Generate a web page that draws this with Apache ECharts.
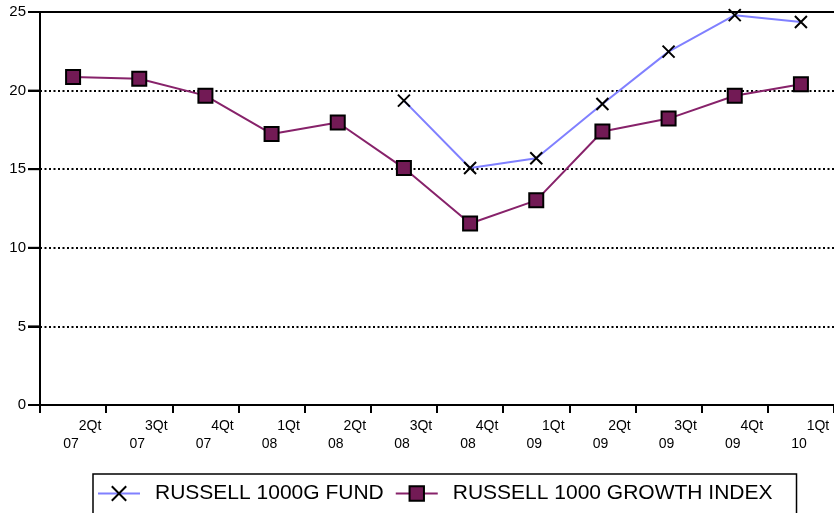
<!DOCTYPE html>
<html>
<head>
<meta charset="utf-8">
<script src="https://cdn.jsdelivr.net/npm/echarts@6/dist/echarts.min.js"></script>
<style>
  html, body { margin: 0; padding: 0; background: #fff; }
  #chart { width: 834px; height: 513px; }
</style>
</head>
<body>
<div id="chart"></div>
<script>
// quarter labels (two lines: quarter / year)
const quarters = ["2Qt", "3Qt", "4Qt", "1Qt", "2Qt", "3Qt", "4Qt", "1Qt", "2Qt", "3Qt", "4Qt", "1Qt"];
const years = ["07", "07", "07", "08", "08", "08", "08", "09", "09", "09", "09", "10"];
const categories = quarters.map((q, i) => q + "\n" + years[i]);

// series values
const fundValues = [null, null, null, null, null, 19.36, 15.08, 15.7, 19.15, 22.48, 24.8, 24.36];
const indexValues = [20.86, 20.75, 19.68, 17.24, 17.97, 15.07, 11.55, 13.02, 17.4, 18.22, 19.67, 20.4];

// y axis ticks
const yMin = 0;
const yMax = 25;
const yStep = 5;

const fontName = "'Liberation Sans', Arial, sans-serif";

const chart = echarts.init(document.getElementById("chart"), null, { renderer: "canvas" });

chart.setOption({
  backgroundColor: "#ffffff",
  animation: false,
  textStyle: { fontFamily: fontName, color: "#000" },
  grid: { left: 40, right: 0, top: 12, bottom: 108 },
  legend: {
    left: 93,
    top: 474,
    orient: "horizontal",
    padding: [9, 24, 14, 4],
    itemGap: 11,
    itemWidth: 42,
    itemHeight: 18,
    borderColor: "#000",
    borderWidth: 1.5,
    textStyle: { fontSize: 21, color: "#000", fontFamily: fontName, padding: [0, 0, 0, 10] },
    data: ["RUSSELL 1000G FUND", "RUSSELL 1000 GROWTH INDEX"]
  },
  xAxis: [
    {
      type: "category",
      data: categories,
      boundaryGap: true,
      axisLine: { show: true, onZero: false, lineStyle: { color: "#000", width: 2 } },
      axisTick: { show: true, interval: 0, length: 8, lineStyle: { color: "#000", width: 2 } },
      axisLabel: {
        interval: 0,
        margin: 12,
        formatter: function (v) {
          const parts = v.split("\n");
          return "{a|" + parts[0] + "}\n{b|" + parts[1] + "}";
        },
        rich: {
          a: { fontSize: 14, fontFamily: fontName, color: "#000", lineHeight: 18, padding: [0, 0, 0, 34] },
          b: { fontSize: 14, fontFamily: fontName, color: "#000", lineHeight: 18, padding: [0, 4, 0, 0] }
        }
      },
      splitLine: { show: false }
    },
    {
      type: "category",
      data: categories,
      position: "top",
      z: 10,
      axisLine: { show: true, onZero: false, lineStyle: { color: "#000", width: 2 } },
      axisTick: { show: false },
      axisLabel: { show: false },
      splitLine: { show: false }
    }
  ],
  yAxis: {
    type: "value",
    min: yMin,
    max: yMax,
    interval: yStep,
    axisLine: { show: true, onZero: false, lineStyle: { color: "#000", width: 2 } },
    axisTick: { show: true, length: 12, lineStyle: { color: "#000", width: 2 } },
    axisLabel: {
      margin: 0,
      formatter: function (v) { return "{v|" + v + "}{t|}"; },
      rich: {
        v: { fontSize: 15, color: "#000", fontFamily: fontName, padding: [0, 2, 0, 0] },
        t: { width: 12, height: 2, backgroundColor: "#000" }
      }
    },
    splitLine: { show: true, lineStyle: { color: "#000", width: 2, type: [2, 2.5] } }
  },
  series: [
    {
      name: "RUSSELL 1000G FUND",
      type: "line",
      data: fundValues,
      connectNulls: false,
      symbol: "path://M0,0L10,10M10,0L0,10",
      symbolSize: 12,
      lineStyle: { color: "#8080ff", width: 2 },
      itemStyle: { color: "transparent", borderColor: "#000", borderWidth: 2 },
      z: 3
    },
    {
      name: "RUSSELL 1000 GROWTH INDEX",
      type: "line",
      data: indexValues,
      symbol: "rect",
      symbolSize: 14,
      lineStyle: { color: "#87226a", width: 2 },
      itemStyle: { color: "#721a55", borderColor: "#000", borderWidth: 2 },
      z: 2
    }
  ]
});
</script>
</body>
</html>
